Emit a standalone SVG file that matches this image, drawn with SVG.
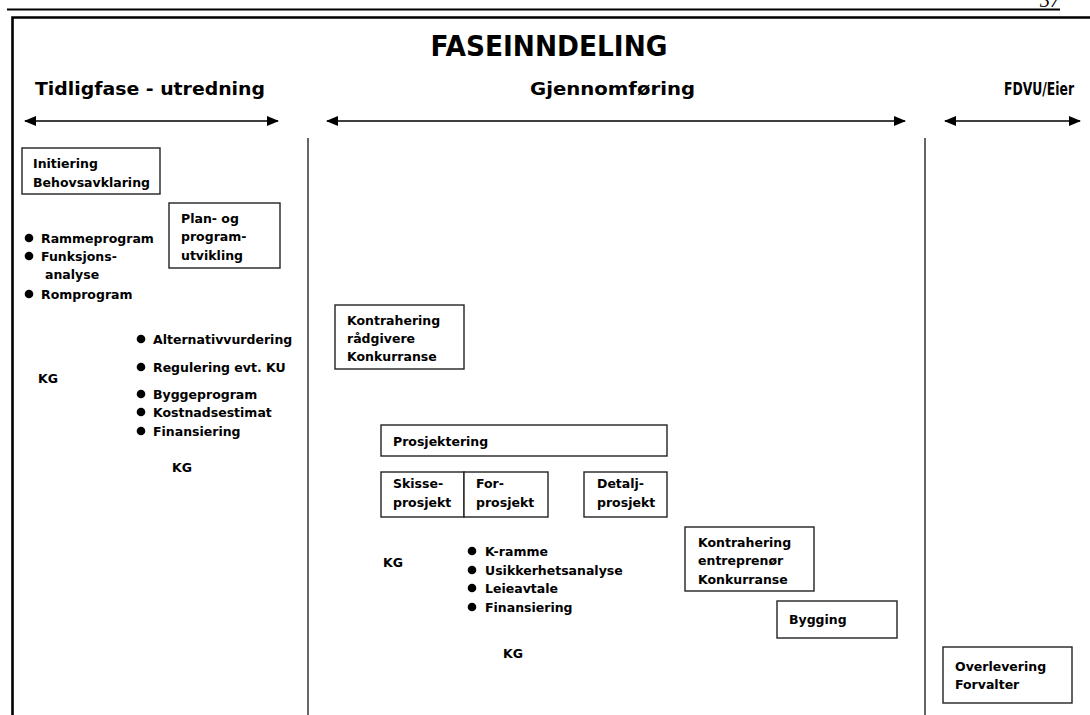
<svg xmlns="http://www.w3.org/2000/svg" width="1090" height="715" viewBox="0 0 1090 715">
  <style>
    .t { font-family: 'Comic Sans MS', 'DejaVu Sans', sans-serif; font-weight: bold; font-size: 12.5px; fill: #000; }
    .h { font-family: 'Comic Sans MS', 'DejaVu Sans', sans-serif; font-weight: bold; font-size: 17px; fill: #000; }
    .title { font-family: 'Comic Sans MS', 'DejaVu Sans', sans-serif; font-weight: bold; font-size: 28px; fill: #000; }
    .box { fill: #fff; stroke: #222; stroke-width: 1.4; }
    .divider { stroke: #333; stroke-width: 1.5; }
    .span { stroke: #000; stroke-width: 1.6; fill: none; marker-start: url(#head); marker-end: url(#head); }
    .dot { fill: #000; }
  </style>
  <defs>
    <marker id="head" viewBox="0 0 12 10" refX="11" refY="5" markerWidth="12" markerHeight="10" markerUnits="userSpaceOnUse" orient="auto-start-reverse">
      <path d="M0,0 L12,5 L0,10 z" fill="#000"/>
    </marker>
  </defs>

  <rect width="1090" height="715" fill="#fff"/>

  <!-- page header rule and page number -->
  <line x1="7" y1="9.5" x2="1060" y2="9.5" stroke="#000" stroke-width="2"/>
  <text x="1040" y="7" font-family="'Liberation Serif', serif" font-style="italic" font-size="20">37</text>

  <!-- frame -->
  <path d="M12.5,715 V17.5 H1090" fill="none" stroke="#000" stroke-width="2.6"/>

  <!-- title and phase headings -->
  <text class="title" x="549" y="56" text-anchor="middle" textLength="237" lengthAdjust="spacingAndGlyphs">FASEINNDELING</text>
  <text class="h" x="35" y="95" textLength="230" lengthAdjust="spacingAndGlyphs">Tidligfase - utredning</text>
  <text class="h" x="530" y="95" textLength="165" lengthAdjust="spacingAndGlyphs">Gjennomføring</text>
  <text class="h" x="1004" y="95" font-size="16" textLength="70" lengthAdjust="spacingAndGlyphs">FDVU/Eier</text>

  <!-- connectors: phase spans and dividers -->
  <g id="connectors">
    <line class="span" x1="25" y1="121" x2="278" y2="121"/>
    <line class="span" x1="327" y1="121" x2="905" y2="121"/>
    <line class="span" x1="945" y1="121" x2="1080" y2="121"/>
    <line class="divider" x1="308" y1="138" x2="308" y2="715"/>
    <line class="divider" x1="925" y1="138" x2="925" y2="715"/>
  </g>

  <g id="initiering">
    <rect class="box" x="22" y="148" width="138" height="46"/>
    <text class="t" x="33" y="168">Initiering</text>
    <text class="t" x="33" y="187">Behovsavklaring</text>
  </g>

  <g id="plan-program">
    <rect class="box" x="169" y="203" width="111" height="65"/>
    <text class="t" x="181" y="223">Plan- og</text>
    <text class="t" x="181" y="241">program-</text>
    <text class="t" x="181" y="260">utvikling</text>
  </g>

  <g id="list-early">
    <circle class="dot" cx="29" cy="238" r="4.3"/>
    <text class="t" x="41" y="243">Rammeprogram</text>
    <circle class="dot" cx="29" cy="256" r="4.3"/>
    <text class="t" x="41" y="261">Funksjons-</text>
    <text class="t" x="45" y="279">analyse</text>
    <circle class="dot" cx="29" cy="294" r="4.3"/>
    <text class="t" x="41" y="299">Romprogram</text>
  </g>

  <g id="kg-1">
    <text class="t" x="38" y="383">KG</text>
  </g>

  <g id="list-alternatives">
    <circle class="dot" cx="141" cy="339" r="4.3"/>
    <text class="t" x="153" y="344">Alternativvurdering</text>
    <circle class="dot" cx="141" cy="367" r="4.3"/>
    <text class="t" x="153" y="372">Regulering evt. KU</text>
    <circle class="dot" cx="141" cy="394" r="4.3"/>
    <text class="t" x="153" y="399">Byggeprogram</text>
    <circle class="dot" cx="141" cy="412" r="4.3"/>
    <text class="t" x="153" y="417">Kostnadsestimat</text>
    <circle class="dot" cx="141" cy="431" r="4.3"/>
    <text class="t" x="153" y="436">Finansiering</text>
  </g>

  <g id="kg-2">
    <text class="t" x="172" y="472">KG</text>
  </g>

  <g id="kontrahering-radgivere">
    <rect class="box" x="335" y="305" width="129" height="64"/>
    <text class="t" x="347" y="325">Kontrahering</text>
    <text class="t" x="347" y="343">rådgivere</text>
    <text class="t" x="347" y="361">Konkurranse</text>
  </g>

  <g id="prosjektering">
    <rect class="box" x="381" y="425" width="286" height="31"/>
    <text class="t" x="393" y="446">Prosjektering</text>
  </g>

  <g id="skisseprosjekt">
    <rect class="box" x="381" y="472" width="83" height="45"/>
    <text class="t" x="393" y="488">Skisse-</text>
    <text class="t" x="393" y="507">prosjekt</text>
  </g>

  <g id="forprosjekt">
    <rect class="box" x="464" y="472" width="84" height="45"/>
    <text class="t" x="476" y="488">For-</text>
    <text class="t" x="476" y="507">prosjekt</text>
  </g>

  <g id="detaljprosjekt">
    <rect class="box" x="584" y="472" width="83" height="45"/>
    <text class="t" x="597" y="488">Detalj-</text>
    <text class="t" x="597" y="507">prosjekt</text>
  </g>

  <g id="kg-3">
    <text class="t" x="383" y="567">KG</text>
  </g>

  <g id="list-project">
    <circle class="dot" cx="472" cy="551" r="4.3"/>
    <text class="t" x="485" y="556">K-ramme</text>
    <circle class="dot" cx="472" cy="570" r="4.3"/>
    <text class="t" x="485" y="575">Usikkerhetsanalyse</text>
    <circle class="dot" cx="472" cy="588" r="4.3"/>
    <text class="t" x="485" y="593">Leieavtale</text>
    <circle class="dot" cx="472" cy="607" r="4.3"/>
    <text class="t" x="485" y="612">Finansiering</text>
  </g>

  <g id="kg-4">
    <text class="t" x="503" y="658">KG</text>
  </g>

  <g id="kontrahering-entreprenor">
    <rect class="box" x="685" y="527" width="129" height="64"/>
    <text class="t" x="698" y="547">Kontrahering</text>
    <text class="t" x="698" y="565">entreprenør</text>
    <text class="t" x="698" y="584">Konkurranse</text>
  </g>

  <g id="bygging">
    <rect class="box" x="777" y="601" width="120" height="37"/>
    <text class="t" x="789" y="624">Bygging</text>
  </g>

  <g id="overlevering">
    <rect class="box" x="943" y="647" width="129" height="56"/>
    <text class="t" x="955" y="671">Overlevering</text>
    <text class="t" x="955" y="689">Forvalter</text>
  </g>
</svg>
